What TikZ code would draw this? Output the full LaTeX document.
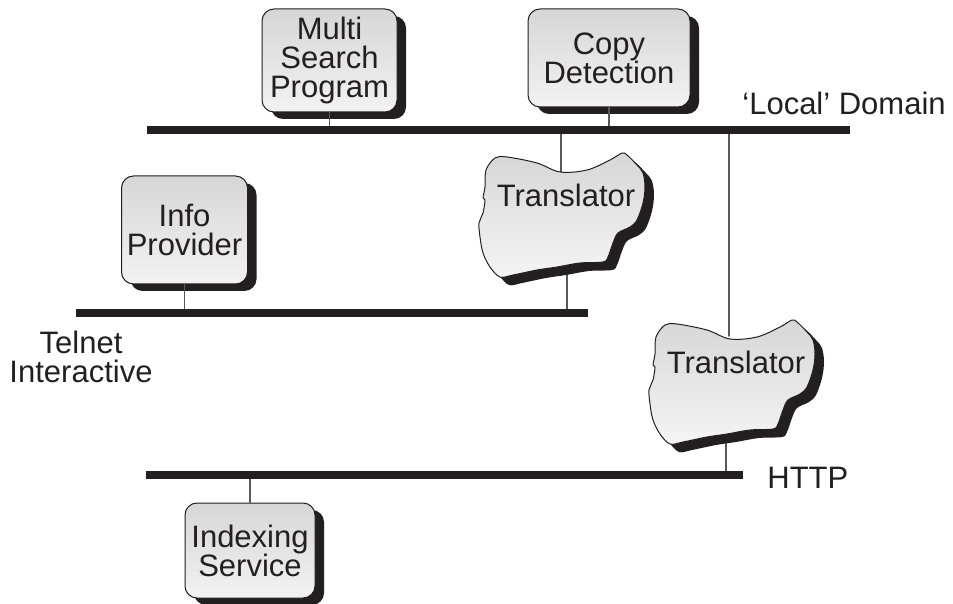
\documentclass[tikz,border=0pt]{standalone}
\usepackage{fontspec}
\setmainfont{Liberation Sans}
\usetikzlibrary{shadows}
\definecolor{ink}{HTML}{231F20}

\begin{document}
\begin{tikzpicture}[
  x=0.5pt,
  y=-0.5pt,
  line cap=round,
  line join=round,
  font=\fontsize{15.5}{14.5}\selectfont,
  bus/.style={line width=4pt, ink, line cap=butt},
  link/.style={line width=0.75pt, black!65},
  station/.style={
    draw=ink, line width=0.5pt, rounded corners=6pt,
    top color=gray!32, bottom color=gray!10,
    align=center, inner sep=0pt, text=ink,
    drop shadow={shadow xshift=4.5pt, shadow yshift=-3.5pt, fill=ink, opacity=1}
  },
  caption/.style={text=ink, align=center, inner sep=0pt}
]
  % Контур облака переводчика (относительно центра надписи)
  \def\cloudpath{
    plot[smooth cycle, tension=0.55] coordinates {
      (-80,-25) (-71,-37) (-59,-38) (-29,-32) (-6,-23) (21,-25)
      (44,-35) (56,-42) (61,-40) (71,-30) (77,-22) (79,-8) (77,8)
      (71,25) (64,32) (52,38) (47,48) (42,62) (37,67) (14,68)
      (-9,72) (-29,75) (-53,80) (-66,82) (-76,72) (-83,58)
      (-86,42) (-87,28) (-83,18) (-81,5) (-83,3) (-81,-8)
    }
  }

  \useasboundingbox (0,0) rectangle (953,604);

  % Шины
  \coordinate (B1L) at (147,130);
  \coordinate (B1R) at (850,130);
  \coordinate (B2L) at (76,313);
  \coordinate (B2R) at (588,313);
  \coordinate (B3L) at (146,475);
  \coordinate (B3R) at (743,475);

  % Точки подключения переводчиков
  \coordinate (trAtop) at (561,172);
  \coordinate (trAbot) at (567,266);
  \coordinate (trBtop) at (729,336);
  \coordinate (trBbot) at (726,432);

  % Узлы
  \node[station, minimum width=67.5pt, minimum height=51.5pt]
    (multi) at (329.5,60.5) {Multi\\Search\\Program};
  \node[station, minimum width=81pt, minimum height=49pt]
    (copy) at (609,58) {Copy\\Detection};
  \node[station, minimum width=63pt, minimum height=54pt]
    (info) at (184.5,230) {Info\\Provider};
  \node[station, minimum width=65pt, minimum height=47.5pt]
    (index) at (250,550.5) {Indexing\\Service};

  % Тонкие отводы
  \draw[link] (multi.south) -- (multi.south |- B1L);
  \draw[link] (copy.south) -- (copy.south |- B1L);
  \draw[link] (info.south) -- (info.south |- B2L);
  \draw[link] (index.north) -- (index.north |- B3L);
  \draw[link] (trAtop |- B1L) -- (trAtop);
  \draw[link] (trAbot) -- (trAbot |- B2L);
  \draw[link] (trBtop |- B1L) -- (trBtop);
  \draw[link] (trBbot) -- (trBbot |- B3L);

  \draw[bus] (B1L) -- (B1R);
  \draw[bus] (B2L) -- (B2R);
  \draw[bus] (B3L) -- (B3R);

  % Переводчики
  \begin{scope}[shift={(566,195)}]
    \fill[ink, shift={(9,8)}] \cloudpath;
    \draw[ink, line width=0.5pt, top color=gray!32, bottom color=gray!8]
      \cloudpath;
    \node[caption] (trA) at (0,0) {Translator};
  \end{scope}

  \begin{scope}[shift={(736,362)}]
    \fill[ink, shift={(9,8)}] \cloudpath;
    \draw[ink, line width=0.5pt, top color=gray!32, bottom color=gray!8]
      \cloudpath;
    \node[caption] (trB) at (0,0) {Translator};
  \end{scope}

  % Подписи доменов
  \node[caption, anchor=west] (local) at (742,103) {‘Local’ Domain};
  \node[caption] (telnet) at (81,357) {Telnet\\Interactive};
  \node[caption, anchor=west] (http) at (767,478) {HTTP};
\end{tikzpicture}
\end{document}
